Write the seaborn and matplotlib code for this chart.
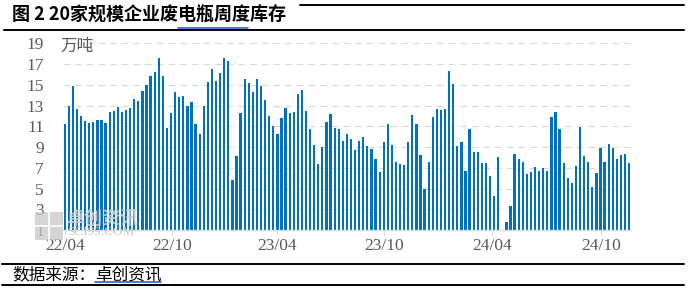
import matplotlib
matplotlib.use("Agg")
import matplotlib.pyplot as plt
from matplotlib.lines import Line2D
from matplotlib.patches import Rectangle
import seaborn as sns
import numpy as np
import pandas as pd

# ---------------- data ----------------
inventory = [
    11.2, 13.0, 14.9, 12.7, 12.0, 11.5, 11.3, 11.4, 11.6, 11.6,
    11.3, 12.4, 12.5, 12.9, 12.4, 12.6, 12.8, 13.6, 13.4, 14.4,
    15.0, 15.8, 16.2, 17.6, 15.8, 10.8, 12.3, 14.3, 13.8, 13.9,
    13.0, 13.3, 11.2, 10.3, 13.0, 15.3, 16.5, 15.4, 16.1, 17.6,
    17.3, 5.8, 8.1, 12.3, 15.6, 15.2, 14.3, 15.6, 14.9, 13.5,
    12.0, 11.0, 10.3, 11.8, 12.8, 12.3, 12.4, 14.1, 14.5, 12.5,
    10.7, 9.2, 7.4, 9.0, 11.4, 12.2, 10.8, 10.7, 9.6, 10.3,
    9.8, 8.7, 9.6, 10.0, 9.1, 8.8, 7.8, 6.6, 9.5, 11.2,
    9.2, 7.6, 7.4, 7.3, 9.5, 12.1, 11.2, 8.2, 5.0, 7.6,
    11.9, 12.7, 12.6, 12.7, 16.3, 15.1, 9.1, 9.5, 6.7, 10.7,
    8.5, 8.5, 7.5, 7.5, 6.2, 4.3, 8.0, np.nan, 1.8, 3.3,
    8.3, 7.8, 7.6, 6.4, 6.6, 7.1, 6.7, 7.0, 6.7, 11.9,
    12.4, 10.7, 7.5, 6.0, 5.5, 7.2, 10.9, 8.1, 7.6, 5.1,
    6.5, 8.9, 7.6, 9.3, 8.9, 7.8, 8.2, 8.3, 7.5,
]
week = list(range(len(inventory)))
tick_labels = ["22/04", "22/10", "23/04", "23/10", "24/04", "24/10"]
tick_weeks = [0, 26.2, 51.9, 78.1, 104.5, 131.2]
y_ticks = [1, 3, 5, 7, 9, 11, 13, 15, 17, 19]

title = "图 2 20家规模企业废电瓶周度库存"
unit = "万吨"
source_a = "数据来源："
source_b = "卓创资讯"

# ---------------- style ----------------
W, H = 695, 291
sns.set_theme(style="white")
plt.rcParams["font.family"] = ["Noto Sans CJK SC", "DejaVu Sans"]

fig = plt.figure(figsize=(W / 100, H / 100), dpi=100)

n = len(inventory)
step = 4.09
left_px = 64.7 - 0.5 * step
width_px = n * step
bottom_px, top_px = 230.0, 43.3
ax = fig.add_axes([left_px / W, 1 - bottom_px / H, width_px / W, (bottom_px - top_px) / H])

df = pd.DataFrame({"week": week, "inventory": inventory})
sns.barplot(data=df, x="week", y="inventory", native_scale=True,
            color="#0070C0", saturation=1, width=0.55, ax=ax, zorder=3,
            edgecolor="none", linewidth=0)

ax.set_xlim(-0.5, n - 0.5)
ax.set_ylim(1, 19)
ax.set_yticks(y_ticks)
ax.set_yticklabels([str(v) for v in y_ticks])
ax.set_xticks(tick_weeks)
ax.set_xticklabels(tick_labels)
ax.set_xlabel("")
ax.set_ylabel("")

for v in y_ticks[1:]:
    ax.axhline(v, color="#D9D9D9", lw=0.8, ls=(0, (6, 4.5)), zorder=1)

for s in ["left", "right", "top"]:
    ax.spines[s].set_visible(False)
ax.spines["bottom"].set_color("#D9D9D9")
ax.spines["bottom"].set_linewidth(1.0)
ax.spines["bottom"].set_zorder(4)

ax.tick_params(axis="y", length=0, pad=13.5, labelsize=12.5, labelcolor="#595959")
ax.tick_params(axis="x", length=3.5, width=0.8, color="#D9D9D9", pad=2,
               labelsize=12.5, labelcolor="#595959", bottom=True)
for lab in ax.get_xticklabels() + ax.get_yticklabels():
    lab.set_fontfamily(["Liberation Serif", "DejaVu Serif"])

# unit label
fig.text(60 / W, 1 - 46 / H, unit, fontsize=12, color="#595959", va="center", ha="left")

# watermark (logo + text, drawn behind the bars)
fig.patches.append(Rectangle((35 / W, 1 - 240 / H), 28 / W, 28 / H, transform=fig.transFigure,
                             facecolor="#C8C8C8", edgecolor="none", alpha=0.75, zorder=0))
fig.lines.append(Line2D([49 / W, 49 / W], [1 - 240 / H, 1 - 212 / H], transform=fig.transFigure,
                        color="white", lw=1.2, zorder=1))
fig.lines.append(Line2D([35 / W, 63 / W], [1 - 226 / H, 1 - 226 / H], transform=fig.transFigure,
                        color="white", lw=1.2, zorder=1))
fig.text(66 / W, 1 - 218 / H, "卓创资讯", fontsize=13, fontweight="bold", color="#CFCFCF",
         alpha=0.85, va="center", ha="left", zorder=0)
fig.text(67 / W, 1 - 232 / H, "SCI99.COM", fontsize=9.5, color="#C4C4C4", alpha=0.95,
         va="center", ha="left", family=["Liberation Serif"], zorder=0)

# title and frame lines
fig.text(12 / W, 1 - 15 / H, title, fontsize=13, fontweight="bold", color="black",
         va="center", ha="left")

def hline(x0, x1, y, color="black", lw=1.4):
    fig.lines.append(Line2D([x0 / W, x1 / W], [1 - y / H, 1 - y / H],
                            transform=fig.transFigure, color=color, lw=lw))

hline(300, 684, 5)
hline(4, 684, 29.5)
hline(178, 248, 28, color="#2F5BD8", lw=1.2)
hline(2, 684, 264)
hline(2, 684, 285)

fig.text(12 / W, 1 - 275 / H, source_a, fontsize=12, color="black", va="center", ha="left")
fig.text(95 / W, 1 - 275 / H, source_b, fontsize=12, color="black", va="center", ha="left")
hline(95, 161, 282, color="#2F5BD8", lw=1.2)

fig.savefig("out.png", dpi=100)
